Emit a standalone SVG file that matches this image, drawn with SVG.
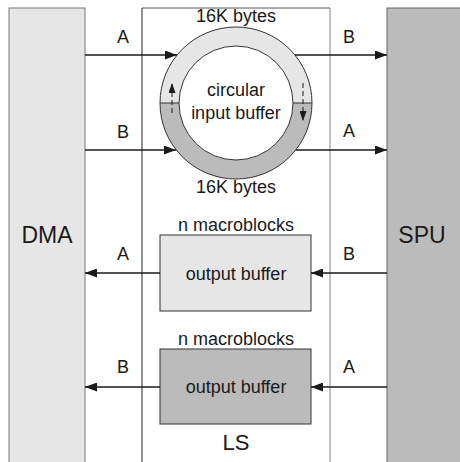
<svg xmlns="http://www.w3.org/2000/svg" width="460" height="462" viewBox="0 0 460 462">
<style>
text{font-family:"Liberation Sans",Arial,sans-serif;fill:#1a1a1a;text-anchor:middle}
.t{font-size:18px}
.big{font-size:23px}
.conn{stroke:#1a1a1a;stroke-width:1.3;fill:none}
.dash{stroke:#1a1a1a;stroke-width:1;fill:none;stroke-dasharray:5,3}
</style>
<defs>
<marker id="ah" viewBox="0 0 12 9" refX="12" refY="4.5" markerWidth="12" markerHeight="9" markerUnits="userSpaceOnUse" orient="auto">
<path d="M0,0 L12,4.5 L0,9 Z" fill="#1a1a1a"/>
</marker>
<marker id="sh" viewBox="0 0 7 10" refX="7" refY="3.5" markerWidth="10" markerHeight="7" markerUnits="userSpaceOnUse" orient="auto">
<path d="M0,0 L10,3.5 L0,7 Z" fill="#1a1a1a"/>
</marker>
<marker id="sm" viewBox="0 0 10 7" refX="10" refY="3.5" markerWidth="10" markerHeight="7" markerUnits="userSpaceOnUse" orient="auto">
<path d="M0,0 L10,3.5 L0,7 Z" fill="#1a1a1a"/>
</marker>
</defs>
<rect width="460" height="462" fill="#fff"/>
<g id="dma">
<rect x="9" y="8" width="76" height="470" fill="#e6e6e6" stroke="#777" stroke-width="1"/>
<text class="big" x="47" y="243">DMA</text>
</g>
<g id="spu">
<rect x="387" y="8" width="90" height="470" fill="#bbbbbb" stroke="#666" stroke-width="1"/>
<text class="big" x="422" y="243">SPU</text>
</g>
<g id="ls">
<line x1="142" y1="8" x2="330" y2="8" stroke="#555" stroke-width="1"/>
<line x1="142" y1="8" x2="142" y2="470" stroke="#222" stroke-width="1"/>
<line x1="330" y1="8" x2="330" y2="470" stroke="#888" stroke-width="1"/>
<text x="236" y="450" style="font-size:22px">LS</text>
</g>
<g id="circular-buffer">
<path d="M160,103 A76,76 0 0 1 312,103 L293,103 A57,57 0 0 0 179,103 Z" fill="#e6e6e6"/>
<path d="M160,103 A76,76 0 0 0 312,103 L293,103 A57,57 0 0 1 179,103 Z" fill="#bbbbbb"/>
<circle cx="236" cy="103" r="76" fill="none" stroke="#333" stroke-width="1"/>
<circle cx="236" cy="103" r="57" fill="#fff" stroke="#333" stroke-width="1"/>
<line x1="160" y1="103" x2="179" y2="103" stroke="#333" stroke-width="1"/>
<line x1="293" y1="103" x2="312" y2="103" stroke="#333" stroke-width="1"/>
<text class="t" x="236" y="96">circular</text>
<text class="t" x="236" y="119">input buffer</text>
<text class="t" x="236" y="22">16K bytes</text>
<text class="t" x="236" y="193">16K bytes</text>
</g>
<g id="output-buffer-1">
<rect x="160" y="235" width="151" height="76" fill="#e6e6e6" stroke="#333" stroke-width="1"/>
<text class="t" x="236" y="280">output buffer</text>
<text class="t" x="236" y="231">n macroblocks</text>
</g>
<g id="output-buffer-2">
<rect x="160" y="349" width="151" height="75" fill="#bbbbbb" stroke="#333" stroke-width="1"/>
<text class="t" x="236" y="393">output buffer</text>
<text class="t" x="236" y="345">n macroblocks</text>
</g>
<g id="connectors">
<line class="conn" x1="85" y1="55" x2="177" y2="55" marker-end="url(#ah)"/>
<line class="conn" x1="85" y1="150" x2="176" y2="150" marker-end="url(#ah)"/>
<line class="conn" x1="295" y1="55" x2="387" y2="55" marker-end="url(#ah)"/>
<line class="conn" x1="296" y1="150" x2="387" y2="150" marker-end="url(#ah)"/>
<line class="conn" x1="160" y1="273" x2="85" y2="273" marker-end="url(#ah)"/>
<line class="conn" x1="387" y1="273" x2="311" y2="273" marker-end="url(#ah)"/>
<line class="conn" x1="160" y1="387" x2="85" y2="387" marker-end="url(#ah)"/>
<line class="conn" x1="387" y1="387" x2="311" y2="387" marker-end="url(#ah)"/>
<line class="dash" x1="172" y1="113" x2="172" y2="83" marker-end="url(#sm)"/>
<line class="dash" x1="303" y1="83" x2="303" y2="121" marker-end="url(#sm)"/>
<text class="t" x="123" y="43">A</text>
<text class="t" x="123" y="138">B</text>
<text class="t" x="349" y="43">B</text>
<text class="t" x="349" y="137">A</text>
<text class="t" x="123" y="260">A</text>
<text class="t" x="349" y="260">B</text>
<text class="t" x="123" y="373">B</text>
<text class="t" x="349" y="373">A</text>
</g>
</svg>
